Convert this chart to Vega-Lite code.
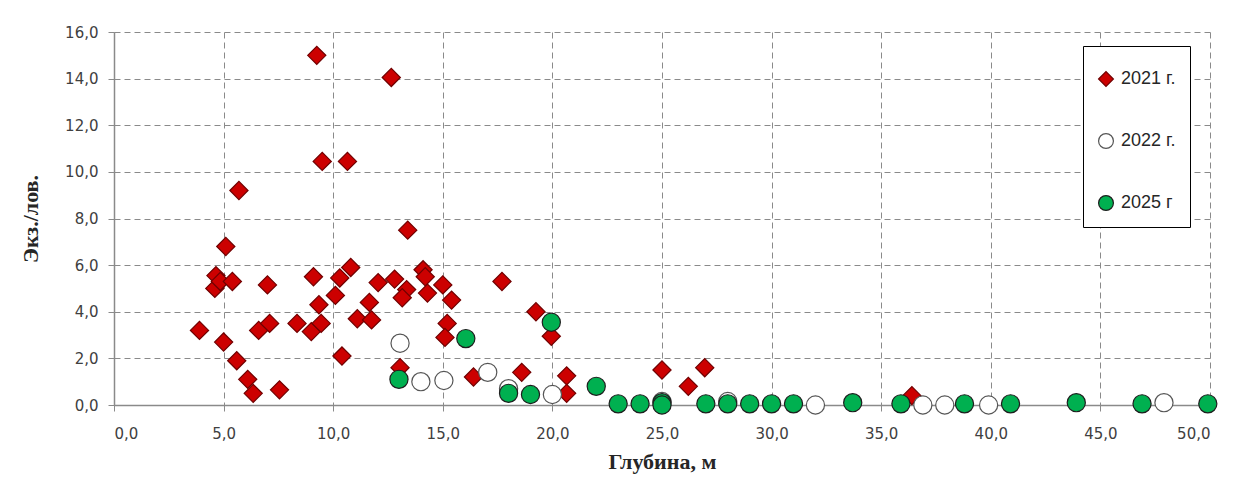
{
  "$schema": "https://vega.github.io/schema/vega-lite/v6.json",
  "width": 1096,
  "height": 373,
  "autosize": {"type": "none"},
  "padding": {"left": 114, "top": 32, "right": 23, "bottom": 87},
  "background": "white",
  "data": {
    "values": [
      {"depth": 3.9, "value": 3.2, "year": "2021 г."},
      {"depth": 4.6, "value": 5.0, "year": "2021 г."},
      {"depth": 4.65, "value": 5.55, "year": "2021 г."},
      {"depth": 4.85, "value": 5.3, "year": "2021 г."},
      {"depth": 5.1, "value": 6.8, "year": "2021 г."},
      {"depth": 5.4, "value": 5.3, "year": "2021 г."},
      {"depth": 5.7, "value": 9.2, "year": "2021 г."},
      {"depth": 5.0, "value": 2.7, "year": "2021 г."},
      {"depth": 5.6, "value": 1.9, "year": "2021 г."},
      {"depth": 6.1, "value": 1.1, "year": "2021 г."},
      {"depth": 6.35, "value": 0.5, "year": "2021 г."},
      {"depth": 7.55, "value": 0.65, "year": "2021 г."},
      {"depth": 7.0, "value": 5.15, "year": "2021 г."},
      {"depth": 6.6, "value": 3.2, "year": "2021 г."},
      {"depth": 7.1, "value": 3.5, "year": "2021 г."},
      {"depth": 8.35, "value": 3.5, "year": "2021 г."},
      {"depth": 9.0, "value": 3.15, "year": "2021 г."},
      {"depth": 9.45, "value": 3.5, "year": "2021 г."},
      {"depth": 9.35, "value": 4.3, "year": "2021 г."},
      {"depth": 9.1, "value": 5.5, "year": "2021 г."},
      {"depth": 9.25, "value": 15.0, "year": "2021 г."},
      {"depth": 9.5, "value": 10.45, "year": "2021 г."},
      {"depth": 10.65, "value": 10.45, "year": "2021 г."},
      {"depth": 12.65, "value": 14.05, "year": "2021 г."},
      {"depth": 10.1, "value": 4.7, "year": "2021 г."},
      {"depth": 10.3, "value": 5.45, "year": "2021 г."},
      {"depth": 10.8, "value": 5.9, "year": "2021 г."},
      {"depth": 10.4, "value": 2.1, "year": "2021 г."},
      {"depth": 11.1, "value": 3.7, "year": "2021 г."},
      {"depth": 11.65, "value": 4.4, "year": "2021 г."},
      {"depth": 11.75, "value": 3.65, "year": "2021 г."},
      {"depth": 12.05, "value": 5.25, "year": "2021 г."},
      {"depth": 12.8, "value": 5.4, "year": "2021 г."},
      {"depth": 13.4, "value": 7.5, "year": "2021 г."},
      {"depth": 13.35, "value": 4.95, "year": "2021 г."},
      {"depth": 13.15, "value": 4.6, "year": "2021 г."},
      {"depth": 14.1, "value": 5.8, "year": "2021 г."},
      {"depth": 14.2, "value": 5.5, "year": "2021 г."},
      {"depth": 14.3, "value": 4.8, "year": "2021 г."},
      {"depth": 15.0, "value": 5.15, "year": "2021 г."},
      {"depth": 15.4, "value": 4.5, "year": "2021 г."},
      {"depth": 15.2, "value": 3.5, "year": "2021 г."},
      {"depth": 15.1, "value": 2.9, "year": "2021 г."},
      {"depth": 13.05, "value": 1.6, "year": "2021 г."},
      {"depth": 16.4, "value": 1.2, "year": "2021 г."},
      {"depth": 17.7, "value": 5.3, "year": "2021 г."},
      {"depth": 19.25, "value": 4.0, "year": "2021 г."},
      {"depth": 19.95, "value": 2.95, "year": "2021 г."},
      {"depth": 18.6, "value": 1.4, "year": "2021 г."},
      {"depth": 20.65, "value": 1.25, "year": "2021 г."},
      {"depth": 20.65, "value": 0.5, "year": "2021 г."},
      {"depth": 25.0, "value": 1.5, "year": "2021 г."},
      {"depth": 26.2, "value": 0.8, "year": "2021 г."},
      {"depth": 26.95, "value": 1.6, "year": "2021 г."},
      {"depth": 36.4, "value": 0.4, "year": "2021 г."},
      {"depth": 13.05, "value": 2.65, "year": "2022 г."},
      {"depth": 14.0, "value": 1.0, "year": "2022 г."},
      {"depth": 15.05, "value": 1.05, "year": "2022 г."},
      {"depth": 17.05, "value": 1.4, "year": "2022 г."},
      {"depth": 18.0, "value": 0.7, "year": "2022 г."},
      {"depth": 20.0, "value": 0.45, "year": "2022 г."},
      {"depth": 25.0, "value": 0.15, "year": "2022 г."},
      {"depth": 28.0, "value": 0.15, "year": "2022 г."},
      {"depth": 32.0, "value": 0.0, "year": "2022 г."},
      {"depth": 36.9, "value": 0.0, "year": "2022 г."},
      {"depth": 37.9, "value": 0.0, "year": "2022 г."},
      {"depth": 39.9, "value": 0.0, "year": "2022 г."},
      {"depth": 47.9, "value": 0.1, "year": "2022 г."},
      {"depth": 13.0, "value": 1.1, "year": "2025 г"},
      {"depth": 16.05, "value": 2.85, "year": "2025 г"},
      {"depth": 18.0, "value": 0.5, "year": "2025 г"},
      {"depth": 19.0, "value": 0.45, "year": "2025 г"},
      {"depth": 19.95, "value": 3.55, "year": "2025 г"},
      {"depth": 22.0, "value": 0.8, "year": "2025 г"},
      {"depth": 23.0, "value": 0.05, "year": "2025 г"},
      {"depth": 24.0, "value": 0.05, "year": "2025 г"},
      {"depth": 25.0, "value": 0.1, "year": "2025 г"},
      {"depth": 25.0, "value": 0.0, "year": "2025 г"},
      {"depth": 27.0, "value": 0.05, "year": "2025 г"},
      {"depth": 28.0, "value": 0.05, "year": "2025 г"},
      {"depth": 29.0, "value": 0.05, "year": "2025 г"},
      {"depth": 30.0, "value": 0.05, "year": "2025 г"},
      {"depth": 31.0, "value": 0.05, "year": "2025 г"},
      {"depth": 33.7, "value": 0.1, "year": "2025 г"},
      {"depth": 35.9, "value": 0.05, "year": "2025 г"},
      {"depth": 38.8, "value": 0.05, "year": "2025 г"},
      {"depth": 40.9, "value": 0.05, "year": "2025 г"},
      {"depth": 43.9, "value": 0.1, "year": "2025 г"},
      {"depth": 46.9, "value": 0.05, "year": "2025 г"},
      {"depth": 49.9, "value": 0.05, "year": "2025 г"}
    ]
  },
  "mark": {"type": "point", "filled": true, "size": 330, "strokeWidth": 1.2, "opacity": 1},
  "encoding": {
    "x": {
      "field": "depth", "type": "quantitative",
      "scale": {"domain": [0, 50], "nice": false, "zero": true},
      "axis": {
        "title": "Глубина, м",
        "values": [0, 5, 10, 15, 20, 25, 30, 35, 40, 45, 50],
        "labelExpr": "replace(format(datum.value, '.1f'), '.', ',')",
        "titlePadding": 10
      }
    },
    "y": {
      "field": "value", "type": "quantitative",
      "scale": {"domain": [0, 16], "nice": false},
      "axis": {
        "title": "Экз./лов.",
        "values": [0, 2, 4, 6, 8, 10, 12, 14, 16],
        "labelExpr": "replace(format(datum.value, '.1f'), '.', ',')",
        "titlePadding": 22
      }
    },
    "shape": {
      "field": "year", "type": "nominal",
      "scale": {"domain": ["2021 г.", "2022 г.", "2025 г"], "range": ["diamond", "circle", "circle"]},
      "legend": {"title": "\u00a0"}
    },
    "fill": {
      "field": "year", "type": "nominal",
      "scale": {"domain": ["2021 г.", "2022 г.", "2025 г"], "range": ["#cc0000", "#ffffff", "#00b050"]},
      "legend": {"title": "\u00a0"}
    },
    "stroke": {
      "field": "year", "type": "nominal",
      "scale": {"domain": ["2021 г.", "2022 г.", "2025 г"], "range": ["#700000", "#555555", "#1e1e1e"]},
      "legend": {"title": "\u00a0"}
    }
  },
  "config": {
    "view": {"stroke": null},
    "axis": {
      "grid": true,
      "gridColor": "#8a8a8a",
      "gridDash": [6, 4],
      "gridWidth": 1,
      "domainColor": "#8a8a8a",
      "domainWidth": 1.5,
      "tickColor": "#8a8a8a",
      "tickSize": 6,
      "labelFont": "DejaVu Sans",
      "labelFontSize": 15,
      "labelColor": "#404040",
      "titleFont": "Liberation Serif",
      "titleFontSize": 22,
      "titleFontWeight": "bold",
      "titleColor": "#262626"
    },
    "axisX": {"labelPadding": 15, "tickSize": 6},
    "axisY": {"labelPadding": 10},
    "legend": {
      "orient": "none",
      "legendX": 969,
      "legendY": 14,
      "strokeColor": "#000000",
      "fillColor": "#ffffff",
      "padding": 14,
      "rowPadding": 42,
      "titleFontSize": 10,
      "titlePadding": 0,
      "symbolSize": 220,
      "symbolStrokeWidth": 1.2,
      "labelFont": "Liberation Sans",
      "labelFontSize": 18,
      "labelColor": "#262626",
      "labelOffset": 6,
      "labelExpr": "datum.label + '\u00a0\u00a0\u00a0'"
    }
  }
}
